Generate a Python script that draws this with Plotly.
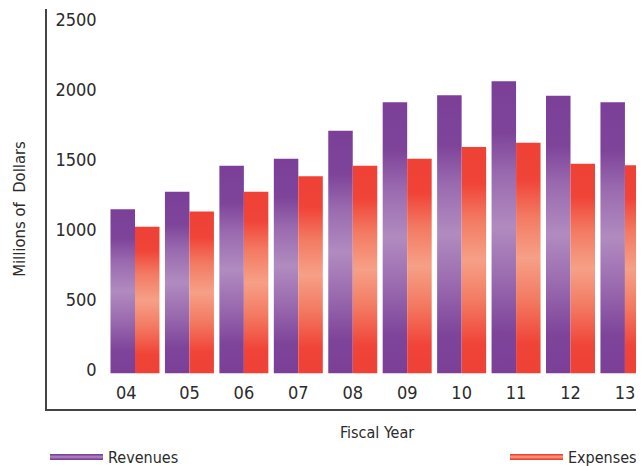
import plotly.graph_objects as go

years = ["04", "05", "06", "07", "08", "09", "10", "11", "12", "13"]
revenues = [1170, 1295, 1480, 1530, 1730, 1935, 1985, 2085, 1980, 1935]
expenses = [1045, 1155, 1295, 1405, 1480, 1530, 1615, 1645, 1495, 1485]
y_ticks = [0, 500, 1000, 1500, 2000, 2500]

FONT = "Liberation Sans Narrow, DejaVu Sans Condensed, Arial Narrow, sans-serif"
TXT = "#2b2b2b"

purple_scale = [[0, "#7b3f98"], [0.14, "#7e449a"], [0.32, "#9a6aaf"], [0.5, "#b18bc0"],
                [0.68, "#9a6aaf"], [0.82, "#7e449a"], [1, "#7b3f98"]]
red_scale = [[0, "#ef4136"], [0.13, "#f04438"], [0.32, "#f37a62"], [0.5, "#f6a087"],
             [0.68, "#f37a62"], [0.84, "#f04438"], [1, "#ef4136"]]

half = 0.45
fig = go.Figure()
series = [("Revenues", revenues, purple_scale, -1, "legend"),
          ("Expenses", expenses, red_scale, 0, "legend2")]
for name, vals, scale, side, leg in series:
    for i, v in enumerate(vals):
        x0 = i + side * half
        x1 = x0 + half
        fig.add_trace(go.Scatter(
            x=[x0, x0, x1, x1, x0], y=[0, v, v, 0, 0],
            mode="none", fill="toself",
            fillcolor=scale[3][1],
            fillgradient=dict(type="vertical", colorscale=scale),
            name=name, legendgroup=name, showlegend=(i == 0), legend=leg,
            hoverinfo="text", text=f"{name} FY{years[i]}: {v}",
        ))

tick_pos = [i for i in range(len(years))]
tick_pos[0] = -0.16

W, H = 644, 466
fig.update_layout(
    width=W, height=H,
    margin=dict(l=39, r=0, t=1, b=65),
    paper_bgcolor="white", plot_bgcolor="white",
    font=dict(family=FONT, color=TXT, size=18),
    xaxis=dict(range=[-1.6165, 9.497], tickvals=tick_pos, ticktext=years,
               showline=True, linecolor="#444", linewidth=1.5, ticks="",
               showgrid=False, zeroline=False, ticklabelstandoff=-33, automargin=False,
               tickfont=dict(size=18, family=FONT, color=TXT)),
    yaxis=dict(range=[-256, 2600], tickvals=y_ticks,
               showline=True, linecolor="#444", linewidth=1.5, ticks="",
               showgrid=False, zeroline=False, ticklabelstandoff=-55, ticklabelshift=-3,
               automargin=False,
               tickfont=dict(size=18, family=FONT, color=TXT),
               title=dict(text="Millions of\u00a0 Dollars", standoff=26,
                          font=dict(size=16.5, family=FONT, color=TXT))),
    legend=dict(orientation="h", xref="container", yref="container", x=37/W, y=17/H,
                xanchor="left", yanchor="middle", itemwidth=53,
                font=dict(size=16, family=FONT, color=TXT), bgcolor="rgba(0,0,0,0)"),
    legend2=dict(orientation="h", xref="container", yref="container", x=497/W, y=17/H,
                 xanchor="left", yanchor="middle", itemwidth=53,
                 font=dict(size=16, family=FONT, color=TXT), bgcolor="rgba(0,0,0,0)"),
    annotations=[dict(text="Fiscal Year", xref="paper", yref="paper", x=(369-39)/605, y=-0.0575,
                      showarrow=False, font=dict(size=16, family=FONT, color=TXT),
                      xanchor="center", yanchor="middle")],
)

fig.write_html("out.html")
